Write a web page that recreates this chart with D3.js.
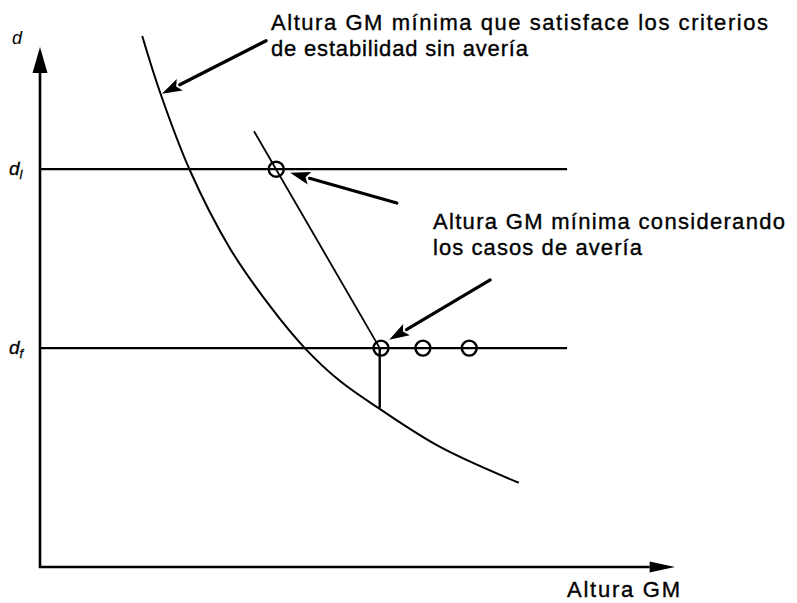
<!DOCTYPE html>
<html>
<head>
<meta charset="utf-8">
<script src="https://cdn.jsdelivr.net/npm/d3@7"></script>
<style>
  html, body { margin: 0; padding: 0; background: #fff; }
  svg { display: block; }
  text { font-family: "Liberation Sans", Arial, sans-serif; fill: #000; }
</style>
</head>
<body>
<svg id="chart" width="797" height="603"></svg>
<script>
// Minimum-GM curve for intact stability (GM, draught)
const intactGM    = [16.1, 18.9, 23.6, 29.9, 36.2, 41.7, 47.2, 53.5, 63.0, 75.4];
const intactDraft = [102.1, 91.3, 76.3, 61.3, 50.2, 42.1, 35.8, 30.4, 23.1, 16.2];

// Reference draughts
const draftLevels = [76.5, 42.1];
const draftNames  = ["l", "f"];
const draftLineEnd = 83;

// Damage-case minimum-GM line
const damageGM    = [33.7, 53.5];
const damageDraft = [83.8, 42.1];

// Marked GM values (circles)
const pointGM    = [37.2, 53.7, 60.3, 67.6];
const pointDraft = [76.5, 42.1, 42.1, 42.1];

// Drop from the damage point down to the intact curve
const dropGM = 53.5;
const dropDraft = [42.1, 30.6];

// Annotation arrows: tail and tip in data units
const arrowTail = [[35.6, 101.2], [56.2, 70.0], [70.9, 55.2]];
const arrowTip  = [[19.2, 91.0], [39.4, 75.8], [55.0, 43.7]];

const noteLines = [
  ["Altura GM mínima que satisface los criterios", "de estabilidad sin avería"],
  ["Altura GM mínima considerando", "los casos de avería"]
];
const xTitle = "Altura GM";
const yTitle = "d";

const svg = d3.select("#chart");
const x = d3.scaleLinear().domain([0, 100]).range([40, 675]);
const y = d3.scaleLinear().domain([0, 100]).range([567, 47]);

// Axes
const x0 = x(0), y0 = y(0);
svg.append("line").attr("x1", x0).attr("y1", y0 + 1).attr("x2", x0).attr("y2", y(95))
  .attr("stroke", "#000").attr("stroke-width", 2.6);
svg.append("line").attr("x1", x0 - 1).attr("y1", y0).attr("x2", x(96)).attr("y2", y0)
  .attr("stroke", "#000").attr("stroke-width", 2.6);
// axis arrowheads
svg.append("path")
  .attr("d", `M${x0},${y(100)} L${x0 - 7.5},${y(95)} L${x0 + 7.5},${y(95)} Z`)
  .attr("fill", "#000");
svg.append("path")
  .attr("d", `M${x(100)},${y0} L${x(96)},${y0 - 5.5} L${x(96)},${y0 + 5.5} Z`)
  .attr("fill", "#000");

// Draught levels
svg.selectAll("line.level").data(draftLevels).join("line")
  .attr("class", "level")
  .attr("x1", x0).attr("x2", x(draftLineEnd))
  .attr("y1", d => y(d)).attr("y2", d => y(d))
  .attr("stroke", "#000").attr("stroke-width", 2.2);

// Intact stability curve
const curvePts = intactGM.map((g, i) => [g, intactDraft[i]]);
svg.append("path")
  .attr("d", d3.line().x(d => x(d[0])).y(d => y(d[1])).curve(d3.curveCatmullRom)(curvePts))
  .attr("fill", "none").attr("stroke", "#000").attr("stroke-width", 2);

// Damage line
svg.append("line")
  .attr("x1", x(damageGM[0])).attr("y1", y(damageDraft[0]))
  .attr("x2", x(damageGM[1])).attr("y2", y(damageDraft[1]))
  .attr("stroke", "#000").attr("stroke-width", 1.8);

// Vertical drop
svg.append("line")
  .attr("x1", x(dropGM)).attr("x2", x(dropGM))
  .attr("y1", y(dropDraft[0])).attr("y2", y(dropDraft[1]))
  .attr("stroke", "#000").attr("stroke-width", 2.4);

// Circles
svg.selectAll("circle.pt").data(pointGM.map((g, i) => [g, pointDraft[i]])).join("circle")
  .attr("class", "pt")
  .attr("cx", d => x(d[0])).attr("cy", d => y(d[1])).attr("r", 7.5)
  .attr("fill", "none").attr("stroke", "#000").attr("stroke-width", 2.4);

// Annotation arrows
arrowTail.forEach((t, i) => {
  const tx = x(t[0]), ty = y(t[1]);
  const hx = x(arrowTip[i][0]), hy = y(arrowTip[i][1]);
  const ang = Math.atan2(hy - ty, hx - tx);
  const len = 20, hw = 6.5;
  const bx = hx - len * Math.cos(ang), by = hy - len * Math.sin(ang);
  svg.append("line").attr("x1", tx).attr("y1", ty).attr("x2", bx).attr("y2", by)
    .attr("stroke", "#000").attr("stroke-width", 3.2).attr("stroke-linecap", "round");
  const px = -Math.sin(ang) * hw, py = Math.cos(ang) * hw;
  svg.append("path")
    .attr("d", `M${hx},${hy} L${bx + px},${by + py} L${bx + 4 * Math.cos(ang)},${by + 4 * Math.sin(ang)} L${bx - px},${by - py} Z`)
    .attr("fill", "#000");
});

// Annotation text (slight stroke for a heavier typeset look)
const notePos = [[271, 30, [497, 257]], [433, 229, [352, 209]]];
noteLines.forEach((lines, i) => {
  const [nx, ny, widths] = notePos[i];
  lines.forEach((s, j) => {
    svg.append("text").attr("x", nx).attr("y", ny + j * 26)
      .attr("font-size", 22)
      .attr("stroke", "#000").attr("stroke-width", 0.35)
      .attr("textLength", widths[j]).attr("lengthAdjust", "spacing")
      .text(s);
  });
});

// Axis titles
svg.append("text").attr("x", 567).attr("y", 597).attr("font-size", 22)
  .attr("stroke", "#000").attr("stroke-width", 0.35)
  .attr("textLength", 113).attr("lengthAdjust", "spacing").text(xTitle);
svg.append("text").attr("x", 12).attr("y", 44).attr("font-size", 18)
  .attr("font-style", "italic").text(yTitle);

// Draught labels with subscripts
draftLevels.forEach((lv, i) => {
  const t = svg.append("text").attr("x", 9).attr("y", y(lv) + 6)
    .attr("font-size", 19).attr("font-style", "italic")
    .attr("stroke", "#000").attr("stroke-width", 0.3);
  t.append("tspan").text("d");
  t.append("tspan").attr("font-size", 13).attr("dy", 4).text(draftNames[i]);
});
</script>
</body>
</html>
